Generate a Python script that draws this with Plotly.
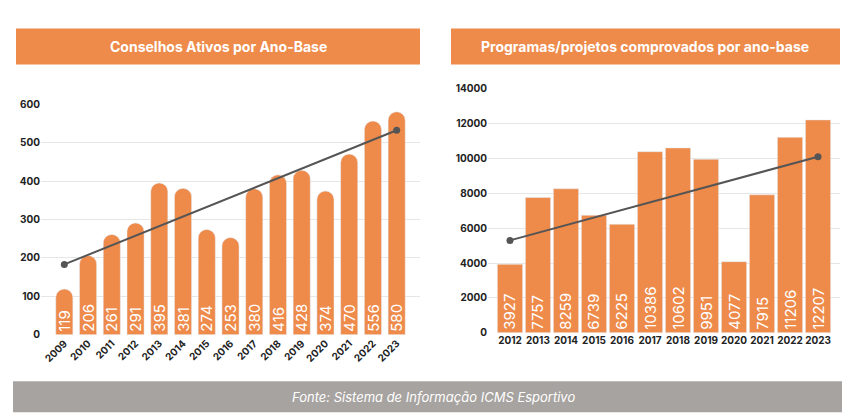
import plotly.graph_objects as go

years_l = [str(y) for y in range(2009, 2024)]
conselhos = [119, 206, 261, 291, 395, 381, 274, 253, 380, 416, 428, 374, 470, 556, 580]
trend_l_x = ["2009", "2023"]
trend_l_y = [183, 532]

years_r = [str(y) for y in range(2012, 2024)]
programas = [3927, 7757, 8259, 6739, 6225, 10386, 10602, 9951, 4077, 7915, 11206, 12207]
trend_r_x = ["2012", "2023"]
trend_r_y = [5300, 10100]

ORANGE = "#EE8A4A"
W, H = 850, 419
def px(x): return x / W
def py(y): return 1 - y / H

fig = go.Figure()
fig.add_bar(x=years_l, y=conselhos, marker=dict(color=ORANGE, cornerradius=10),
            text=[str(v) for v in conselhos], textposition="inside", insidetextanchor="start",
            textangle=-90, constraintext="none", textfont=dict(color="white", size=16, family="Inter"),
            xaxis="x", yaxis="y", width=0.72)
fig.add_scatter(x=trend_l_x, y=trend_l_y, mode="lines+markers", line=dict(color="#555555", width=2),
                marker=dict(size=7, color="#555555"), xaxis="x", yaxis="y")
fig.add_bar(x=years_r, y=programas, marker=dict(color=ORANGE),
            text=[str(v) for v in programas], textposition="inside", insidetextanchor="start",
            textangle=-90, constraintext="none", textfont=dict(color="white", size=15, family="Inter"),
            xaxis="x2", yaxis="y2", width=0.9)
fig.add_scatter(x=trend_r_x, y=trend_r_y, mode="lines+markers", line=dict(color="#555555", width=2),
                marker=dict(size=7, color="#555555"), xaxis="x2", yaxis="y2")

tick = dict(family="Inter", size=10, color="#222222", weight="bold")
ann = dict(xref="paper", yref="paper", showarrow=False, xanchor="center", yanchor="middle")
fig.update_layout(
    width=W, height=H, margin=dict(l=0, r=0, t=0, b=0), showlegend=False,
    paper_bgcolor="white", plot_bgcolor="white", font=dict(family="Inter"),
    uniformtext=dict(minsize=15, mode="show"),
    xaxis=dict(domain=[px(33), px(412)], tickangle=-45, tickfont=tick, showgrid=False, anchor="y"),
    yaxis=dict(domain=[py(330), py(92)], range=[0, 600], dtick=100, tickfont=tick,
               gridcolor="#E6E6E6", zeroline=False, anchor="x"),
    xaxis2=dict(domain=[px(480), px(832)], tickangle=0, tickfont=tick, showgrid=False, anchor="y2"),
    yaxis2=dict(domain=[py(328), py(76)], range=[0, 14000], dtick=2000, tickformat="d", tickfont=tick,
                gridcolor="#E6E6E6", zeroline=False, anchor="x2"),
    shapes=[
        dict(type="rect", xref="paper", yref="paper", x0=px(8), x1=px(412), y0=py(51), y1=py(14),
             fillcolor=ORANGE, line=dict(width=0), layer="below"),
        dict(type="rect", xref="paper", yref="paper", x0=px(443), x1=px(832), y0=py(51), y1=py(14),
             fillcolor=ORANGE, line=dict(width=0), layer="below"),
        dict(type="rect", xref="paper", yref="paper", x0=px(5), x1=px(845), y0=py(410), y1=py(378),
             fillcolor="#A7A3A0", line=dict(width=0), layer="below"),
    ],
    annotations=[
        dict(text="<b>Conselhos Ativos por Ano-Base</b>", x=px(210), y=py(33),
             font=dict(color="white", size=14, family="Inter"), **ann),
        dict(text="<b>Programas/projetos comprovados por ano-base</b>", x=px(637), y=py(33),
             font=dict(color="white", size=14, family="Inter"), **ann),
        dict(text="<i>Fonte: Sistema de Informação ICMS Esportivo</i>", x=px(425), y=py(394),
             font=dict(color="white", size=13, family="Inter"), **ann),
    ],
)
fig.write_html("out.html")
